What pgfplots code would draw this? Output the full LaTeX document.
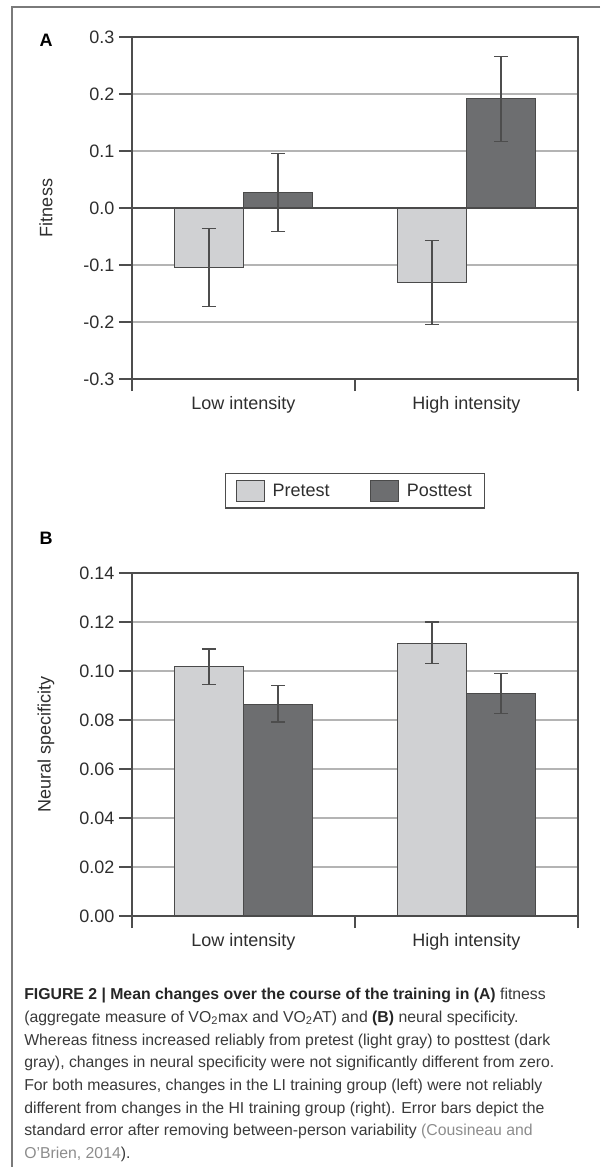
\documentclass[border=0pt]{standalone}
\usepackage{pgfplots}
\pgfplotsset{compat=1.18}
\usepackage{fontspec}
\setmainfont{Liberation Sans}

\definecolor{precol}{HTML}{D0D1D3}
\definecolor{postcol}{HTML}{6D6E70}
\definecolor{edgecol}{HTML}{4A4A4A}
\definecolor{axiscol}{HTML}{4D4D4D}
\definecolor{gridcol}{HTML}{B4B4B4}
\definecolor{textcol}{HTML}{2E2E2E}
\definecolor{capcol}{HTML}{3A3A3A}
\definecolor{citecol}{HTML}{8C8C8C}
\definecolor{framecol}{HTML}{7A7A7A}

\pgfplotsset{
  panel/.style={
    scale only axis, width=334.5pt,
    ybar=0pt, bar width=0.31,
    xmin=-0.5, xmax=1.5,
    xtick={0,1}, xticklabels={Low intensity,High intensity},
    minor xtick={-0.5,0.5,1.5},
    tick align=outside, xtick pos=bottom, ytick pos=left,
    major tick length=9.75pt, minor tick length=9pt,
    every major x tick/.append style={draw=none},
    every tick/.append style={axiscol, line width=0.9pt},
    axis line style={axiscol, line width=0.9pt},
    ymajorgrids, grid style={gridcol, line width=0.9pt},
    tick label style={font=\fontsize{13.5}{16}\selectfont, text=textcol},
    label style={font=\fontsize{13.5}{16}\selectfont, text=textcol},
    ylabel style={at={(axis description cs:-0.193,0.5)}, anchor=center},
    error bars/y dir=both, error bars/y explicit,
    error bars/error bar style={axiscol, line width=0.85pt},
    error bars/error mark options={rotate=90, mark size=5.25pt, axiscol, line width=0.85pt},
  },
  prebar/.style={fill=precol, draw=edgecol, line width=0.8pt, bar shift=-0.155},
  postbar/.style={fill=postcol, draw=edgecol, line width=0.8pt, bar shift=0.155},
}

\begin{document}
\begin{tikzpicture}
\useasboundingbox (0,0) rectangle (450pt,-875.25pt);
% frame of the figure
\draw[framecol, line width=1.1pt] (450pt,-5.25pt) -- (9pt,-5.25pt) -- (9pt,-875.25pt);

% panel A
\begin{axis}[panel,
  at={(99pt,-27.75pt)}, anchor=north west, height=256.5pt,
  ymin=-0.3, ymax=0.3,
  ytick={-0.3,-0.2,-0.1,0,0.1,0.2,0.3},
  yticklabels={-0.3,-0.2,-0.1,0.0,0.1,0.2,0.3},
  extra y ticks={0}, extra y tick labels={},
  extra y tick style={ymajorgrids=true, grid style={axiscol, line width=0.9pt}},
  ylabel={Fitness},
  legend columns=2,
  legend style={at={(0.5,-0.327)}, anchor=center, draw=axiscol, line width=0.9pt,
    font=\fontsize{13.5}{16}\selectfont, text=textcol,
    /tikz/every even column/.append style={column sep=28pt},
    inner xsep=7.5pt, inner ysep=4.5pt},
  legend image code/.code={%
    \draw[#1, line width=0.9pt] (0pt,-7.9pt) rectangle (21pt,7.9pt);
    \path (25pt,0pt);},
]
\addplot[prebar] coordinates {
  (0,-0.105) += (0,0.069) -= (0,0.068)
  (1,-0.130) += (0,0.073) -= (0,0.074)
};
\addplot[postbar] coordinates {
  (0,0.027) += (0,0.068) -= (0,0.068)
  (1,0.192) += (0,0.074) -= (0,0.075)
};
\legend{Pretest,Posttest}
\end{axis}

% panel B
\begin{axis}[panel,
  at={(99pt,-429.75pt)}, anchor=north west, height=257.25pt,
  ymin=0, ymax=0.14,
  ytick={0,0.02,0.04,0.06,0.08,0.1,0.12,0.14},
  yticklabels={0.00,0.02,0.04,0.06,0.08,0.10,0.12,0.14},
  ylabel={Neural specificity},
]
\addplot[prebar] coordinates {
  (0,0.1018) += (0,0.0072) -= (0,0.0072)
  (1,0.1113) += (0,0.0087) -= (0,0.0082)
};
\addplot[postbar] coordinates {
  (0,0.0864) += (0,0.0078) -= (0,0.0072)
  (1,0.0908) += (0,0.0081) -= (0,0.0082)
};
\end{axis}

\node[font=\fontsize{13.5}{16}\selectfont\bfseries, text=black] at (34.5pt,-30pt) {A};
\node[font=\fontsize{13.5}{16}\selectfont\bfseries, text=black] at (34.5pt,-403.5pt) {B};

% caption
\node[anchor=north west, inner sep=0pt, align=left, text=capcol,
      font=\fontsize{11.85}{17}\selectfont] at (18pt,-741pt) {%
\textbf{\color{black!85}FIGURE 2 | Mean changes over the course of the training in (A)} fitness\\
(aggregate measure of VO\textsubscript{2}max and VO\textsubscript{2}AT) and \textbf{\color{black!85}(B)} neural specificity.\\
Whereas fitness increased reliably from pretest (light gray) to posttest (dark\\
gray), changes in neural specificity were not significantly different from zero.\\
For both measures, changes in the LI training group (left) were not reliably\\
different from changes in the HI training group (right). Error bars depict the\\
standard error after removing between-person variability {\color{citecol}(Cousineau and}\\
{\color{citecol}O'Brien, 2014}).};
\end{tikzpicture}
\end{document}
